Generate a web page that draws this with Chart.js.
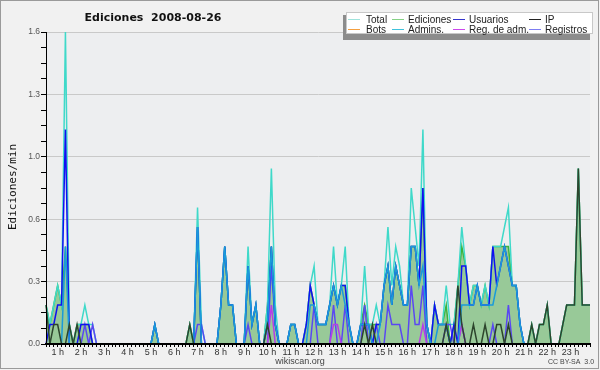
<!DOCTYPE html>
<html>
<head>
<meta charset="utf-8">
<script src="https://cdn.jsdelivr.net/npm/chart.js@4.4.0/dist/chart.umd.min.js"></script>
<style>
  html, body { margin: 0; padding: 0; background: #f1f1f1; }
  #wrap { width: 600px; height: 370px; }
</style>
</head>
<body>
<div id="wrap"><canvas id="chart" width="600" height="370"></canvas></div>
<script>
// 10 minute slots, 00:30 .. 23:50
const slots = [];
for (let h = 0; h < 24; h++) {
    for (let m = 0; m < 60; m += 10) {
        if (h === 0 && m < 30) continue;
        slots.push(String(h).padStart(2, '0') + ':' + String(m).padStart(2, '0'));
    }
}

const seriesNames = ['Total', 'Ediciones', 'Usuarios', 'IP', 'Bots', 'Admins.', 'Reg. de adm.', 'Registros'];

// edits per minute, one value per slot
const total = [
    .2,.1,.2,.3,.2,1.6,.1,0,.1,.1,.2,.1,
    .1,0,0,0,0,0,0,0,0,0,0,0,
    0,0,0,0,.1,0,0,0,0,0,0,0,
    0,.1,0,.7,.1,0,0,0,0,.2,.5,.2,
    .2,0,0,0,.5,.1,.2,0,0,.2,.9,.2,
    0,0,0,.1,.1,0,0,.1,.3,.4,.1,.1,
    .1,.2,.5,.2,.3,.5,.1,0,0,.1,.4,.1,
    .1,.2,.1,.3,.6,.3,.5,.4,.2,.2,.8,.6,
    .4,1.1,.1,0,.2,.1,.1,.3,.1,.1,.3,.6,
    .4,.2,.3,.3,.2,.3,.2,.5,.5,.5,.6,.7,
    .3,.3,.1,0,0,.1,0,.1,.1,.2,0,0,
    0,.1,.2,.2,.2,.9,.2,.2,.2
];
const ediciones = [
    .2,.1,.2,.3,.2,.5,.1,0,.1,.1,.1,.1,
    0,0,0,0,0,0,0,0,0,0,0,0,
    0,0,0,0,.1,0,0,0,0,0,0,0,
    0,.1,0,.6,0,0,0,0,0,.2,.5,.2,
    .2,0,0,0,.4,.1,.2,0,0,.2,.5,.1,
    0,0,0,.1,.1,0,0,.1,.3,.2,.1,.1,
    .1,.2,.3,.2,.3,.3,.1,0,0,.1,.2,.1,
    .1,.1,.1,.3,.4,.2,.4,.3,.2,.2,.5,.5,
    .3,.8,.1,0,.2,.1,.1,.2,0,.1,.3,.5,
    .4,.2,.3,.3,.2,.3,.2,.5,.5,.5,.5,.5,
    .3,.3,.1,0,0,.1,0,.1,.1,.2,0,0,
    0,.1,.2,.2,.2,.9,.2,.2,.2
];
const usuarios = [
    0,.1,.1,.2,.2,1.1,0,0,0,.1,.1,.1,
    0,0,0,0,0,0,0,0,0,0,0,0,
    0,0,0,0,.1,0,0,0,0,0,0,0,
    0,0,0,.6,0,0,0,0,0,.2,.5,.2,
    .2,0,0,0,.4,.1,.2,0,0,.1,.5,.1,
    0,0,0,.1,.1,0,0,.1,.3,.2,.1,.1,
    .1,.2,.3,.2,.3,.3,.1,0,0,.1,.1,.1,
    0,.1,.1,.3,.4,.2,.4,.3,.2,.2,.5,.5,
    .3,.8,.1,0,.2,.1,.1,.1,0,.1,0,.4,
    .4,.2,.2,.3,.2,.2,.2,.5,.3,.4,.5,.4,
    .3,.3,.1,0,0,0,0,0,0,0,0,0,
    0,0,0,0,0,0,0,0,0
];
const ip = [
    .2,0,.1,.1,0,0,.1,0,.1,0,0,0,
    0,0,0,0,0,0,0,0,0,0,0,0,
    0,0,0,0,0,0,0,0,0,0,0,0,
    0,.1,0,0,0,0,0,0,0,0,0,0,
    0,0,0,0,0,0,0,0,0,.1,0,0,
    0,0,0,0,0,0,0,0,0,0,0,0,
    0,0,0,0,0,0,0,0,0,0,.1,0,
    .1,0,0,0,0,0,0,0,0,0,0,0,
    0,0,0,0,0,0,0,.1,0,0,.3,.1,
    0,0,.1,0,0,.1,0,0,.1,.1,0,.1,
    0,0,0,0,0,.1,0,.1,.1,.2,0,0,
    0,.1,.2,.2,.2,.9,.2,.2,.2
];
const bots = [
    0,0,0,0,0,0,0,0,0,0,0,0,
    0,0,0,0,0,0,0,0,0,0,0,0,
    0,0,0,0,0,0,0,0,0,0,0,0,
    0,0,0,0,0,0,0,0,0,0,0,0,
    0,0,0,0,0,0,0,0,0,0,0,0,
    0,0,0,0,0,0,0,0,0,0,0,0,
    0,0,0,0,0,0,0,0,0,0,0,0,
    0,0,0,0,0,0,0,0,0,0,0,0,
    0,0,0,0,0,0,0,0,0,0,0,0,
    0,0,0,0,0,0,0,0,0,0,0,0,
    0,0,0,0,0,0,0,0,0,0,0,0,
    0,0,0,0,0,0,0,0,0
];
const admins = [
    0,0,0,0,0,.5,0,0,0,0,0,0,
    0,0,0,0,0,0,0,0,0,0,0,0,
    0,0,0,0,.1,0,0,0,0,0,0,0,
    0,0,0,.6,0,0,0,0,0,.2,.5,.2,
    .2,0,0,0,.4,.1,.2,0,0,.1,.5,.1,
    0,0,0,.1,.1,0,0,0,.2,.2,.1,.1,
    .1,.2,.3,.2,.3,.2,.1,0,0,.1,.1,.1,
    0,0,.1,.3,.4,.2,.4,.3,.2,.2,.5,.5,
    .3,.4,.1,0,0,.1,.1,.1,0,0,0,.2,
    .2,.2,.2,.3,.2,.2,.2,.2,.3,.4,.5,.4,
    .3,.3,.1,0,0,0,0,0,0,0,0,0,
    0,0,0,0,0,0,0,0,0
];
const regAdm = [
    0,0,0,0,0,0,0,0,0,0,0,0,
    0,0,0,0,0,0,0,0,0,0,0,0,
    0,0,0,0,0,0,0,0,0,0,0,0,
    0,0,0,0,0,0,0,0,0,0,0,0,
    0,0,0,0,0,0,0,0,0,0,.2,0,
    0,0,0,0,0,0,0,0,0,0,0,0,
    0,0,.1,.1,0,0,0,0,0,0,0,0,
    0,0,0,0,0,0,0,0,0,0,0,0,
    0,.1,0,0,0,0,0,0,0,0,0,.1,
    0,0,0,0,0,0,0,0,0,0,0,0,
    0,0,0,0,0,0,0,0,0,0,0,0,
    0,0,0,0,0,0,0,0,0
];
const registros = [
    0,0,0,0,0,0,0,0,0,0,.1,0,
    .1,0,0,0,0,0,0,0,0,0,0,0,
    0,0,0,0,0,0,0,0,0,0,0,0,
    0,0,0,.1,.1,0,0,0,0,0,0,0,
    0,0,0,0,.1,0,0,0,0,0,.4,.1,
    0,0,0,0,0,0,0,0,0,.2,0,0,
    0,0,.2,0,0,.2,0,0,0,0,.2,0,
    0,.1,0,0,.2,.1,.1,.1,0,0,.3,.1,
    .1,.3,0,0,0,0,0,.1,.1,0,0,.1,
    0,0,0,0,0,0,0,.1,0,0,0,.2,
    0,0,0,0,0,0,0,0,0,0,0,0,
    0,0,0,0,0,0,0,0,0
];

const yMax = 1.6;
const yMinorStep = 0.08;

const lineColors = {
    total: '#3fd9c9', ediciones: '#3cb43c', usuarios: '#1010f2', ip: '#2d452d',
    bots: '#f5a040', admins: '#1a9bd9', regAdm: '#b83ce8', registros: '#5a48f2'
};
const legendColors = ['#9fe3dc', '#86d286', '#3535cc', '#222222', '#f5a040', '#3fc2dc', '#cc48ec', '#7d7df2'];

function line(label, data, color, order, extra) {
    return Object.assign({
        label: label,
        data: data,
        borderColor: color,
        borderWidth: 1.5,
        pointRadius: 0,
        tension: 0,
        fill: false,
        order: order
    }, extra || {});
}

const bgPlugin = {
    id: 'bg',
    beforeDraw(chart) {
        const ctx = chart.ctx;
        const a = chart.chartArea;
        ctx.save();
        ctx.fillStyle = '#f1f1f1';
        ctx.fillRect(0, 0, chart.width, chart.height);
        ctx.fillStyle = '#edeef0';
        ctx.fillRect(a.left, a.top, a.right - a.left, a.bottom - a.top);
        ctx.strokeStyle = '#9a9a9a';
        ctx.lineWidth = 1;
        ctx.strokeRect(0.5, 0.5, 598, 368);
        ctx.restore();
    }
};

const overlayPlugin = {
    id: 'overlay',
    afterDatasetsDraw(chart) {
        const ctx = chart.ctx;
        const a = chart.chartArea;
        ctx.save();
        ctx.strokeStyle = '#000';
        ctx.lineWidth = 2;
        ctx.beginPath();
        ctx.moveTo(a.left - 1, a.bottom);
        ctx.lineTo(a.right, a.bottom);
        ctx.stroke();
        ctx.lineWidth = 1;
        ctx.beginPath();
        ctx.moveTo(a.left + 0.5, a.top);
        ctx.lineTo(a.left + 0.5, a.bottom);
        ctx.stroke();
        ctx.restore();
    },
    afterDraw(chart) {
        const ctx = chart.ctx;
        ctx.save();
        // title
        ctx.fillStyle = '#111';
        ctx.font = 'bold 11px "DejaVu Sans"';
        ctx.textBaseline = 'alphabetic';
        ctx.textAlign = 'center';
        ctx.fillText('Ediciones  2008-08-26', 153, 21);
        // y title
        ctx.save();
        ctx.translate(13, 187);
        ctx.rotate(-Math.PI / 2);
        ctx.font = '11px "DejaVu Sans Mono"';
        ctx.fillStyle = '#111';
        ctx.textBaseline = 'middle';
        ctx.fillText('Ediciones/min', 0, 0);
        ctx.restore();
        // footer
        ctx.font = '9px "Liberation Sans"';
        ctx.fillStyle = '#444';
        ctx.textAlign = 'center';
        ctx.fillText('wikiscan.org', 300, 364);
        ctx.font = '7px "Liberation Sans"';
        ctx.textAlign = 'left';
        ctx.fillText('CC BY-SA  3.0', 548, 364);
        // legend box
        ctx.fillStyle = '#8c8c8c';
        ctx.fillRect(343, 15, 247, 25);
        ctx.fillStyle = '#ffffff';
        ctx.fillRect(346, 12, 247, 22);
        ctx.strokeStyle = '#c8c8c8';
        ctx.strokeRect(346.5, 12.5, 246, 21);
        const colLine = [348, 392, 453, 529];
        const colText = [366, 408, 469, 545];
        const rowY = [19.5, 29.5];
        ctx.font = '10px "Liberation Sans"';
        ctx.textAlign = 'left';
        ctx.textBaseline = 'alphabetic';
        seriesNames.forEach((name, k) => {
            const c = k % 4, r = Math.floor(k / 4);
            ctx.strokeStyle = legendColors[k];
            ctx.lineWidth = 1;
            ctx.beginPath();
            ctx.moveTo(colLine[c], rowY[r]);
            ctx.lineTo(colLine[c] + 12, rowY[r]);
            ctx.stroke();
            ctx.fillStyle = '#222';
            ctx.fillText(name, colText[c], rowY[r] + 3.5);
        });
        ctx.restore();
    }
};

const ctx = document.getElementById('chart').getContext('2d');
const chart = new Chart(ctx, {
    type: 'line',
    data: {
        labels: slots,
        datasets: [
            line('Ediciones', ediciones, lineColors.ediciones, 8, { fill: 'origin', backgroundColor: '#98c998' }),
            line('Total', total, lineColors.total, 7),
            line('Bots', bots, lineColors.bots, 6),
            line('Registros', registros, lineColors.registros, 5),
            line('Reg. de adm.', regAdm, lineColors.regAdm, 4),
            line('Usuarios', usuarios, lineColors.usuarios, 3),
            line('Admins.', admins, lineColors.admins, 2),
            line('IP', ip, lineColors.ip, 1)
        ]
    },
    options: {
        responsive: false,
        animation: false,
        devicePixelRatio: 1,
        layout: { padding: { top: 32, right: 10, bottom: 0, left: 0 } },
        plugins: { legend: { display: false }, tooltip: { enabled: false }, title: { display: false } },
        scales: {
            x: {
                type: 'category',
                offset: false,
                afterFit: s => { s.height = 26; },
                border: { display: true, color: '#000', width: 2 },
                grid: { drawOnChartArea: false, drawTicks: true, tickLength: 3, tickColor: '#000', tickWidth: 1 },
                ticks: {
                    autoSkip: false,
                    maxRotation: 0,
                    minRotation: 0,
                    padding: 0,
                    color: '#333',
                    font: { family: 'Liberation Sans', size: 9 },
                    callback: function (value) {
                        const s = this.getLabelForValue(value);
                        return s.endsWith(':00') ? parseInt(s, 10) + ' h' : '';
                    }
                }
            },
            y: {
                min: 0,
                max: yMax,
                afterFit: s => { s.width = 46; },
                border: { display: true, color: '#000', width: 1 },
                grid: {
                    color: c => (c.tick && Math.round(c.tick.value / yMinorStep) % 4 === 0) ? '#c9c9c9' : 'rgba(0,0,0,0)',
                    tickColor: '#000',
                    tickLength: 5,
                    lineWidth: 1
                },
                ticks: {
                    stepSize: yMinorStep,
                    padding: 1,
                    color: '#555',
                    font: { family: 'Liberation Sans', size: 8.5 },
                    callback: v => Math.round(v / yMinorStep) % 4 === 0 ? v.toFixed(1) : ''
                }
            }
        }
    },
    plugins: [bgPlugin, overlayPlugin]
});
</script>
</body>
</html>
